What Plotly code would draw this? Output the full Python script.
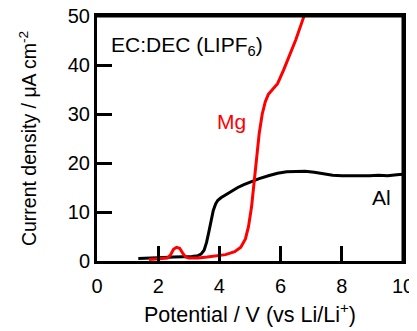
import plotly.graph_objects as go

al_x = [1.35, 1.6, 1.9, 2.2, 2.5, 2.8, 3.1, 3.3, 3.4, 3.5, 3.58, 3.65, 3.72, 3.8, 3.88, 3.95, 4.05, 4.2, 4.4, 4.6, 4.8, 5.0, 5.3, 5.6, 5.9, 6.2, 6.5, 6.8, 7.1, 7.4, 7.7, 8.0, 8.3, 8.6, 8.9, 9.2, 9.5, 9.8, 10.0]
al_y = [0.5, 0.6, 0.7, 0.7, 0.8, 0.8, 0.9, 1.1, 1.4, 2.2, 3.8, 5.8, 8.2, 10.3, 11.7, 12.4, 12.9, 13.5, 14.3, 15.0, 15.6, 16.1, 16.8, 17.4, 17.9, 18.2, 18.3, 18.3, 18.1, 17.8, 17.5, 17.4, 17.4, 17.3, 17.4, 17.5, 17.4, 17.6, 17.7]

mg_x = [1.7, 2.0, 2.3, 2.4, 2.5, 2.6, 2.7, 2.8, 2.9, 3.0, 3.3, 3.6, 3.9, 4.2, 4.5, 4.7, 4.85, 4.95, 5.05, 5.12, 5.2, 5.3, 5.4, 5.5, 5.6, 5.75, 5.9, 6.1, 6.3, 6.5, 6.7, 6.85]
mg_y = [0.3, 0.4, 0.6, 1.2, 2.4, 2.8, 2.6, 1.6, 0.8, 0.6, 0.6, 0.8, 1.0, 1.3, 1.9, 2.8, 4.5, 7.0, 11.0, 15.5, 20.5, 26.0, 30.0, 32.5, 34.0, 35.2, 36.2, 39.0, 42.0, 45.2, 48.8, 51.5]

x_ticks = [0, 2, 4, 6, 8, 10]
y_ticks = [0, 10, 20, 30, 40, 50]
x_range = [0, 10]
y_range = [0, 50]

FONT = "Arial, Liberation Sans, sans-serif"

fig = go.Figure()
fig.add_trace(go.Scatter(x=al_x, y=al_y, mode="lines", line=dict(color="black", width=3), showlegend=False))
fig.add_trace(go.Scatter(x=mg_x, y=mg_y, mode="lines", line=dict(color="#ff0000", width=3), showlegend=False))

axis_common = dict(
    showline=True, linecolor="black", linewidth=3, mirror=True,
    ticks="inside", ticklen=15, tickwidth=3, tickcolor="black",
    showgrid=False, zeroline=False, automargin=False,
    tickfont=dict(family=FONT, size=20, color="black"),
    ticklabeloverflow="allow",
)

fig.update_layout(
    template="none",
    width=417, height=331,
    # page body has an 8px default margin; margins below compensate for it
    margin=dict(l=89, r=22, t=8, b=78),
    paper_bgcolor="white", plot_bgcolor="white",
    font=dict(family=FONT, color="black"),
    xaxis=dict(range=x_range, tickvals=x_ticks, ticktext=[str(v) for v in x_ticks],
               title=dict(text="Potential / V (vs Li/Li<sup>+</sup>)", font=dict(family=FONT, size=21.5, color="black"), standoff=11),
               ticklabelstandoff=5, **axis_common),
    yaxis=dict(range=y_range, tickvals=y_ticks, ticktext=[str(v) for v in y_ticks],
               title=dict(text="Current density / μA cm<sup>-2</sup>", font=dict(family=FONT, size=19.5, color="black"), standoff=26),
               **axis_common),
)

# frame: top and right edges of the plotting area (paper-relative)
fig.add_shape(type="line", xref="paper", yref="paper", x0=0, x1=1, y0=1, y1=1,
              line=dict(color="black", width=3), layer="above")
fig.add_shape(type="line", xref="paper", yref="paper", x0=1, x1=1, y0=0, y1=1,
              line=dict(color="black", width=3), layer="above")

fig.add_annotation(x=0.4, y=43.9, xref="x", yref="y", xanchor="left", yanchor="middle",
                   text="EC:DEC (LIPF<sub>6</sub>)", showarrow=False,
                   font=dict(family=FONT, size=21, color="black"))
fig.add_annotation(x=4.38, y=28.5, xref="x", yref="y", xanchor="center", yanchor="middle",
                   text="Mg", showarrow=False, font=dict(family=FONT, size=21, color="#ff0000"))
fig.add_annotation(x=9.3, y=12.9, xref="x", yref="y", xanchor="center", yanchor="middle",
                   text="Al", showarrow=False, font=dict(family=FONT, size=21, color="black"))

fig.write_html("out.html")
